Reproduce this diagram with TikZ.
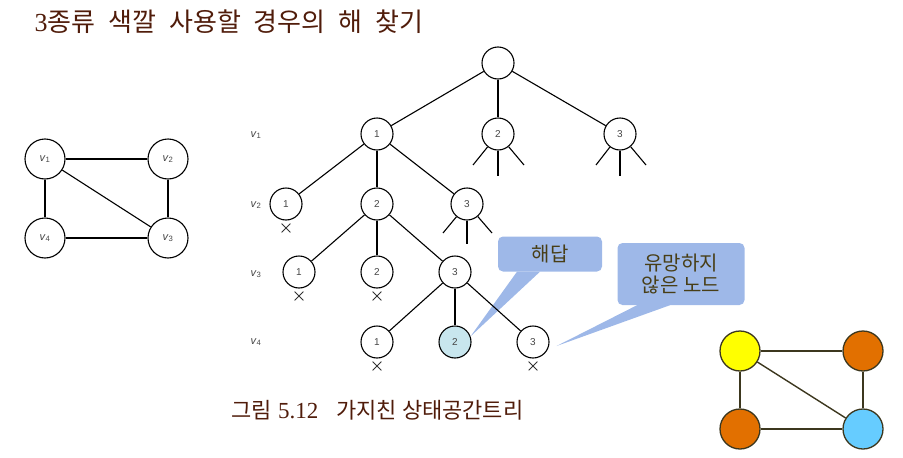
\documentclass[tikz,border=0pt]{standalone}
\usepackage{xcolor}
\usepackage{fontspec}
\usepackage{tikz}
\usetikzlibrary{shapes.misc, positioning, backgrounds}
\setmainfont{Liberation Sans}
\newfontfamily\korfont{Noto Sans CJK KR}
\newfontfamily\serifdigits{Liberation Serif}
\definecolor{titlebrown}{RGB}{80, 28, 10}
\definecolor{calloutblue}{RGB}{158, 184, 232}
\definecolor{callouttext}{RGB}{72, 62, 22}
\definecolor{answerfill}{RGB}{200, 230, 238}
\definecolor{labelgray}{RGB}{70, 70, 70}
\definecolor{nodeyellow}{RGB}{255, 255, 0}
\definecolor{nodeorange}{RGB}{226, 112, 0}
\definecolor{nodecyan}{RGB}{102, 204, 255}
\definecolor{rimdark}{RGB}{60, 55, 30}
\newcommand{\vlabel}[1]{\textit{v}\textsubscript{#1}}

\begin{document}
\begin{tikzpicture}[
    x=1pt, y=-1pt,
    state/.style={circle, draw, line width=1.1pt, minimum size=32pt, inner sep=0pt,
                  font=\fontsize{10}{12}\selectfont, text=labelgray},
    vertex/.style={circle, draw, line width=1.1pt, minimum size=40pt, inner sep=0pt,
                   font=\fontsize{11}{13}\selectfont, text=labelgray},
    colored/.style={circle, draw=rimdark, line width=1.3pt, minimum size=40pt},
    edge/.style={line width=1.1pt},
    pruned/.style={cross out, draw=black!80, line width=0.8pt, minimum size=8pt, inner sep=0pt},
    rowlabel/.style={font=\fontsize{11}{13}\selectfont, text=labelgray},
    callout/.style={fill=calloutblue, rounded corners=5pt, align=center,
                    font=\korfont\fontsize{20}{22}\selectfont, text=callouttext}
]
    \useasboundingbox (0,0) rectangle (903,458);

    % Title
    \node[anchor=west, text=titlebrown, font=\fontsize{26}{30}\selectfont] (title) at (31,22)
        {{\serifdigits 3}\korfont\spaceskip=13pt 종류 색깔 사용할 경우의 해 찾기};

    % Graph to colour
    \node[vertex] (v1) at (45,159) {\vlabel{1}};
    \node[vertex] (v2) at (168,159) {\vlabel{2}};
    \node[vertex] (v4) at (45,238) {\vlabel{4}};
    \node[vertex] (v3) at (168,238) {\vlabel{3}};
    \draw[edge] (v1) -- (v2);
    \draw[edge] (v1) -- (v4);
    \draw[edge] (v1) -- (v3);
    \draw[edge] (v2) -- (v3);
    \draw[edge] (v4) -- (v3);

    % Row labels
    \node[rowlabel] (lv1) at (256,135) {\vlabel{1}};
    \node[rowlabel] (lv2) at (256,205) {\vlabel{2}};
    \node[rowlabel] (lv3) at (256,274) {\vlabel{3}};
    \node[rowlabel] (lv4) at (256,342) {\vlabel{4}};

    % Pruned state space tree
    \node[state] (root) at (498,63) {};
    \node[state] (a1) at (377,134) {1};
    \node[state] (a2) at (498,134) {2};
    \node[state] (a3) at (620,134) {3};
    \node[state] (b1) at (286,204) {1};
    \node[state] (b2) at (377,204) {2};
    \node[state] (b3) at (467,204) {3};
    \node[state] (c1) at (299,272) {1};
    \node[state] (c2) at (377,272) {2};
    \node[state] (c3) at (455,272) {3};
    \node[state] (d1) at (377,342) {1};
    \node[state, fill=answerfill] (d2) at (455,342) {2};
    \node[state] (d3) at (533,342) {3};

    \foreach \p/\c in {root/a1, root/a2, root/a3, a1/b1, a1/b2, a1/b3,
                       b2/c1, b2/c2, b2/c3, c3/d1, c3/d2, c3/d3}
        \draw[edge] (\p) -- (\c);

    % Unexpanded branches
    \coordinate (s21) at (473,165);
    \coordinate (s22) at (498,176);
    \coordinate (s23) at (524,165);
    \coordinate (s31) at (596,165);
    \coordinate (s32) at (620,176);
    \coordinate (s33) at (646,165);
    \coordinate (t31) at (443,233);
    \coordinate (t32) at (467,244);
    \coordinate (t33) at (492,233);
    \foreach \i in {1,2,3} {
        \draw[edge] (a2) -- (s2\i);
        \draw[edge] (a3) -- (s3\i);
        \draw[edge] (b3) -- (t3\i);
    }

    % Crossed out nodes
    \node[pruned, below=3pt of b1] (xb1) {};
    \node[pruned, below=3pt of c1] (xc1) {};
    \node[pruned, below=3pt of c2] (xc2) {};
    \node[pruned, below=3pt of d1] (xd1) {};
    \node[pruned, below=3pt of d3] (xd3) {};

    % Callouts
    \node[callout, minimum width=104pt, minimum height=35pt] (answer) at (550,254) {해답};
    \node[callout, minimum width=127pt, minimum height=62pt] (hopeless) at (681,274)
        {유망하지\\않은 노드};
    \coordinate (tip3) at ([shift={(7pt,-4pt)}]d3.east);
    \begin{scope}[on background layer]
        \fill[calloutblue] ([xshift=-33pt]answer.south) -- ([xshift=-10pt]answer.south) -- (d2.20) -- cycle;
        \fill[calloutblue] ([xshift=-44pt]hopeless.south) -- ([xshift=-11pt]hopeless.south) -- (tip3) -- cycle;
    \end{scope}

    % Caption
    \node[anchor=west, text=titlebrown, font=\fontsize{22}{24}\selectfont] (caption) at (228,410)
        {{\korfont 그림} {\serifdigits\fontsize{23}{24}\selectfont 5.12}\hspace{18pt}{\korfont 가지친 상태공간트리}};

    % Coloured solution
    \node[colored, fill=nodeyellow] (cy) at (740,351) {};
    \node[colored, fill=nodeorange] (co1) at (863,351) {};
    \node[colored, fill=nodeorange] (co2) at (740,429) {};
    \node[colored, fill=nodecyan] (cc) at (863,429) {};
    \foreach \a/\b in {cy/co1, cy/co2, cy/cc, co1/cc, co2/cc}
        \draw[rimdark, line width=1.4pt] (\a) -- (\b);
\end{tikzpicture}
\end{document}
